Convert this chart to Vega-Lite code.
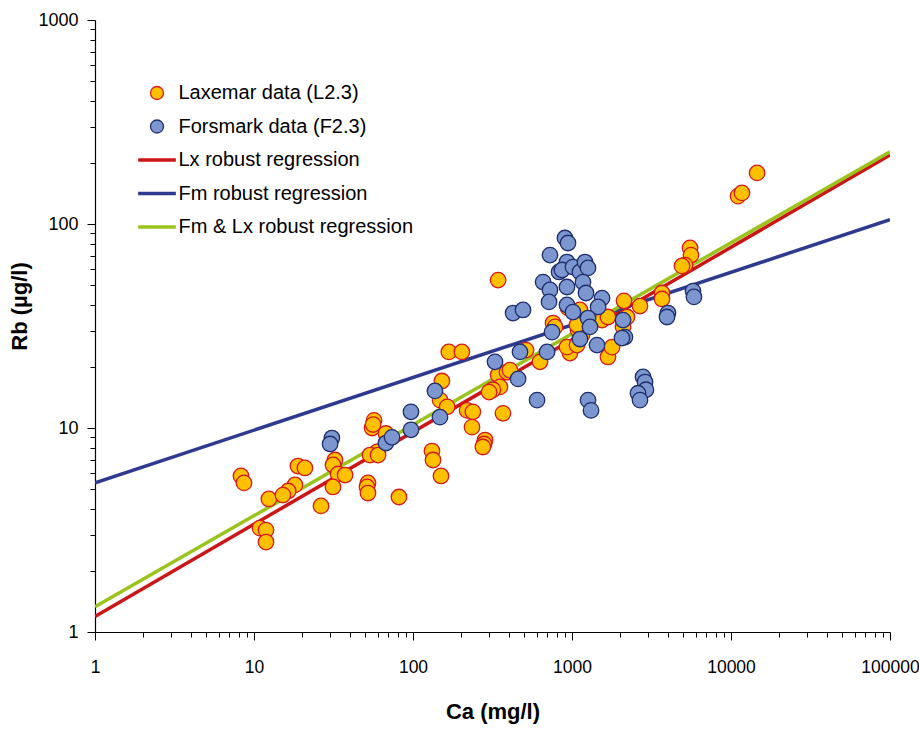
{
  "$schema": "https://vega.github.io/schema/vega-lite/v6.json",
  "width": 795,
  "height": 612,
  "autosize": {"type": "none"},
  "padding": {"left": 95, "top": 20, "right": 29, "bottom": 99},
  "background": "white",
  "config": {
    "view": {"stroke": null},
    "font": "Liberation Sans",
    "axis": {
      "domainColor": "black",
      "domainWidth": 1.2,
      "tickColor": "black",
      "tickWidth": 1,
      "grid": false,
      "labelFont": "Liberation Sans",
      "labelFontSize": 18,
      "labelColor": "black",
      "titleFont": "Liberation Sans",
      "titleFontSize": 22,
      "titleFontWeight": "bold",
      "titleColor": "black"
    },
    "legend": {
      "labelFont": "Liberation Sans",
      "labelFontSize": 20,
      "labelColor": "black",
      "symbolSize": 169,
      "rowPadding": 13.5,
      "labelOffset": 11.5,
      "labelLimit": 400
    }
  },
  "datasets": {
    "lines": [
      {"ca": 1, "rb": 1.19, "series": "Lx robust regression"},
      {"ca": 100000, "rb": 218, "series": "Lx robust regression"},
      {"ca": 1, "rb": 5.39, "series": "Fm robust regression"},
      {"ca": 100000, "rb": 105, "series": "Fm robust regression"},
      {"ca": 1, "rb": 1.33, "series": "Fm & Lx robust regression"},
      {"ca": 100000, "rb": 226, "series": "Fm & Lx robust regression"}
    ],
    "lax": [
      {"ca": 8.28, "rb": 5.82}, {"ca": 8.65, "rb": 5.38}, {"ca": 12.4, "rb": 4.49}, {"ca": 10.9, "rb": 3.23},
      {"ca": 11.9, "rb": 3.16}, {"ca": 11.9, "rb": 2.76}, {"ca": 18.9, "rb": 6.51}, {"ca": 20.9, "rb": 6.37},
      {"ca": 18.1, "rb": 5.26}, {"ca": 16.4, "rb": 4.91}, {"ca": 15.2, "rb": 4.69}, {"ca": 26.4, "rb": 4.15},
      {"ca": 32.3, "rb": 6.97}, {"ca": 31.4, "rb": 6.59}, {"ca": 33.8, "rb": 5.95}, {"ca": 37.4, "rb": 5.88},
      {"ca": 31.4, "rb": 5.14}, {"ca": 56.9, "rb": 10.9}, {"ca": 55.3, "rb": 10.0}, {"ca": 56.1, "rb": 10.4},
      {"ca": 67.6, "rb": 9.4}, {"ca": 59.4, "rb": 7.63}, {"ca": 53.7, "rb": 7.37}, {"ca": 60.3, "rb": 7.37},
      {"ca": 52.1, "rb": 5.38}, {"ca": 51.4, "rb": 5.14}, {"ca": 52.1, "rb": 4.8}, {"ca": 81.6, "rb": 4.59},
      {"ca": 131.6, "rb": 7.71}, {"ca": 133.6, "rb": 6.97}, {"ca": 150, "rb": 5.82}, {"ca": 168, "rb": 23.6},
      {"ca": 203, "rb": 23.6}, {"ca": 152, "rb": 17.0}, {"ca": 148, "rb": 13.7}, {"ca": 164, "rb": 12.7},
      {"ca": 219, "rb": 12.2}, {"ca": 238, "rb": 12.0}, {"ca": 235, "rb": 10.1}, {"ca": 368, "rb": 11.8},
      {"ca": 284, "rb": 8.73}, {"ca": 280, "rb": 8.35}, {"ca": 275, "rb": 8.07}, {"ca": 343, "rb": 53.1},
      {"ca": 343, "rb": 18.2}, {"ca": 390, "rb": 18.8}, {"ca": 352, "rb": 15.9}, {"ca": 318, "rb": 15.4},
      {"ca": 301, "rb": 15.0}, {"ca": 629, "rb": 21.1}, {"ca": 514, "rb": 24.1}, {"ca": 407, "rb": 19.2},
      {"ca": 760, "rb": 32.7}, {"ca": 782, "rb": 31.3}, {"ca": 971, "rb": 23.3}, {"ca": 930, "rb": 24.9},
      {"ca": 1075, "rb": 25.5}, {"ca": 1091, "rb": 30.2}, {"ca": 1156, "rb": 28.6}, {"ca": 1075, "rb": 32.0},
      {"ca": 944, "rb": 38.8}, {"ca": 1122, "rb": 37.9}, {"ca": 1545, "rb": 33.8}, {"ca": 1683, "rb": 35.0},
      {"ca": 1683, "rb": 22.3}, {"ca": 1786, "rb": 24.9}, {"ca": 2123, "rb": 42.0}, {"ca": 2677, "rb": 39.6},
      {"ca": 2218, "rb": 35.0}, {"ca": 2094, "rb": 31.3}, {"ca": 3681, "rb": 45.9}, {"ca": 3681, "rb": 42.9},
      {"ca": 5524, "rb": 76.3}, {"ca": 5600, "rb": 70.4}, {"ca": 5140, "rb": 62.9}, {"ca": 4920, "rb": 62.3},
      {"ca": 11070, "rb": 137}, {"ca": 11720, "rb": 142}, {"ca": 14590, "rb": 178}
    ],
    "fors": [
      {"ca": 30.9, "rb": 8.93}, {"ca": 30.1, "rb": 8.35}, {"ca": 67.6, "rb": 8.44}, {"ca": 73.8, "rb": 9.0},
      {"ca": 97.1, "rb": 12.0}, {"ca": 97.1, "rb": 9.8}, {"ca": 137.4, "rb": 15.2}, {"ca": 147.8, "rb": 11.3},
      {"ca": 328, "rb": 21.1}, {"ca": 458, "rb": 17.4}, {"ca": 471, "rb": 23.6}, {"ca": 603, "rb": 13.7},
      {"ca": 426, "rb": 36.6}, {"ca": 492, "rb": 37.9}, {"ca": 697, "rb": 23.6}, {"ca": 749, "rb": 29.5},
      {"ca": 658, "rb": 51.9}, {"ca": 727, "rb": 47.5}, {"ca": 717, "rb": 41.5}, {"ca": 727, "rb": 70.4},
      {"ca": 903, "rb": 85.4}, {"ca": 944, "rb": 80.7}, {"ca": 930, "rb": 65.1}, {"ca": 829, "rb": 58.2},
      {"ca": 865, "rb": 59.5}, {"ca": 1014, "rb": 61.5}, {"ca": 1122, "rb": 58.2}, {"ca": 1207, "rb": 65.1},
      {"ca": 1261, "rb": 60.9}, {"ca": 1172, "rb": 51.9}, {"ca": 930, "rb": 49.1}, {"ca": 1225, "rb": 45.9},
      {"ca": 930, "rb": 40.1}, {"ca": 1014, "rb": 37.0}, {"ca": 1545, "rb": 43.3}, {"ca": 1459, "rb": 39.2},
      {"ca": 1261, "rb": 34.6}, {"ca": 1298, "rb": 31.3}, {"ca": 1122, "rb": 27.3}, {"ca": 1436, "rb": 25.5},
      {"ca": 2094, "rb": 33.8}, {"ca": 2154, "rb": 27.9}, {"ca": 2061, "rb": 27.6}, {"ca": 1261, "rb": 13.7},
      {"ca": 1317, "rb": 12.2}, {"ca": 2797, "rb": 17.8}, {"ca": 2879, "rb": 16.8}, {"ca": 2918, "rb": 15.4},
      {"ca": 2600, "rb": 14.8}, {"ca": 2677, "rb": 13.7}, {"ca": 4014, "rb": 36.6}, {"ca": 3957, "rb": 35.0},
      {"ca": 5768, "rb": 46.9}, {"ca": 5848, "rb": 43.9}
    ]
  },
  "encoding": {
    "x": {
      "field": "ca", "type": "quantitative",
      "scale": {"type": "log", "domain": [1, 100000], "nice": false},
      "axis": {
        "title": "Ca (mg/l)",
        "values": [1,2,3,4,5,6,7,8,9,10,20,30,40,50,60,70,80,90,100,200,300,400,500,600,700,800,900,1000,2000,3000,4000,5000,6000,7000,8000,9000,10000,20000,30000,40000,50000,60000,70000,80000,90000,100000],
        "labelExpr": "indexof([1,10,100,1000,10000,100000], datum.value) >= 0 ? datum.value + '' : ''",
        "tickSize": {"condition": {"test": "indexof([1,10,100,1000,10000,100000], datum.value) >= 0", "value": 8}, "value": 5},
        "labelFontSize": 17.5,
        "labelPadding": 18,
        "labelFlush": false,
        "labelOverlap": false,
        "titlePadding": 26
      }
    },
    "y": {
      "field": "rb", "type": "quantitative",
      "scale": {"type": "log", "domain": [1, 1000], "nice": false},
      "axis": {
        "title": "Rb (µg/l)",
        "values": [1,2,3,4,5,6,7,8,9,10,20,30,40,50,60,70,80,90,100,200,300,400,500,600,700,800,900,1000],
        "labelExpr": "indexof([1,10,100,1000], datum.value) >= 0 ? datum.value + '' : ''",
        "tickSize": {"condition": {"test": "indexof([1,10,100,1000], datum.value) >= 0", "value": 8}, "value": 5},
        "labelPadding": 9,
        "labelFlush": false,
        "labelOverlap": false,
        "titlePadding": 6,
        "titleY": 286
      }
    }
  },
  "layer": [
    {
      "data": {"name": "lines"},
      "mark": {"type": "line", "clip": true, "strokeWidth": 3.5},
      "encoding": {
        "stroke": {"field": "series", "type": "nominal",
          "scale": {"domain": ["Laxemar data (L2.3)", "Forsmark data (F2.3)", "Lx robust regression", "Fm robust regression", "Fm & Lx robust regression"],
                    "range": ["#D7191C", "#1F2D6E", "#CC1517", "#2E3A8F", "#9AC31C"]},
          "legend": {
            "title": null, "orient": "none", "legendX": 52, "legendY": 63,
            "encode": {"symbols": {"update": {"strokeWidth": {"signal": "indexof(['Laxemar data (L2.3)', 'Forsmark data (F2.3)'], datum.value) >= 0 ? 1.3 : 3.5"}}}}
          }}
      }
    },
    {
      "data": {"name": "lax"},
      "transform": [{"calculate": "'Laxemar data (L2.3)'", "as": "series"}],
      "mark": {"type": "point", "filled": true, "opacity": 1, "size": 240, "strokeWidth": 1.3},
      "encoding": {
        "fill": {"field": "series", "type": "nominal",
          "scale": {"domain": ["Laxemar data (L2.3)", "Forsmark data (F2.3)", "Lx robust regression", "Fm robust regression", "Fm & Lx robust regression"],
                    "range": ["#FFC000", "#7C97CF", "#CC1517", "#2E3A8F", "#9AC31C"]}},
        "stroke": {"field": "series", "type": "nominal"},
        "shape": {"field": "series", "type": "nominal",
          "scale": {"domain": ["Laxemar data (L2.3)", "Forsmark data (F2.3)", "Lx robust regression", "Fm robust regression", "Fm & Lx robust regression"],
                    "range": ["circle", "circle", "M-2.9,0H2.9", "M-2.9,0H2.9", "M-2.9,0H2.9"]}}
      }
    },
    {
      "data": {"name": "fors"},
      "transform": [{"calculate": "'Forsmark data (F2.3)'", "as": "series"}],
      "mark": {"type": "point", "filled": true, "opacity": 1, "size": 240, "strokeWidth": 1.3},
      "encoding": {
        "fill": {"field": "series", "type": "nominal"},
        "stroke": {"field": "series", "type": "nominal"},
        "shape": {"field": "series", "type": "nominal"}
      }
    }
  ]
}
